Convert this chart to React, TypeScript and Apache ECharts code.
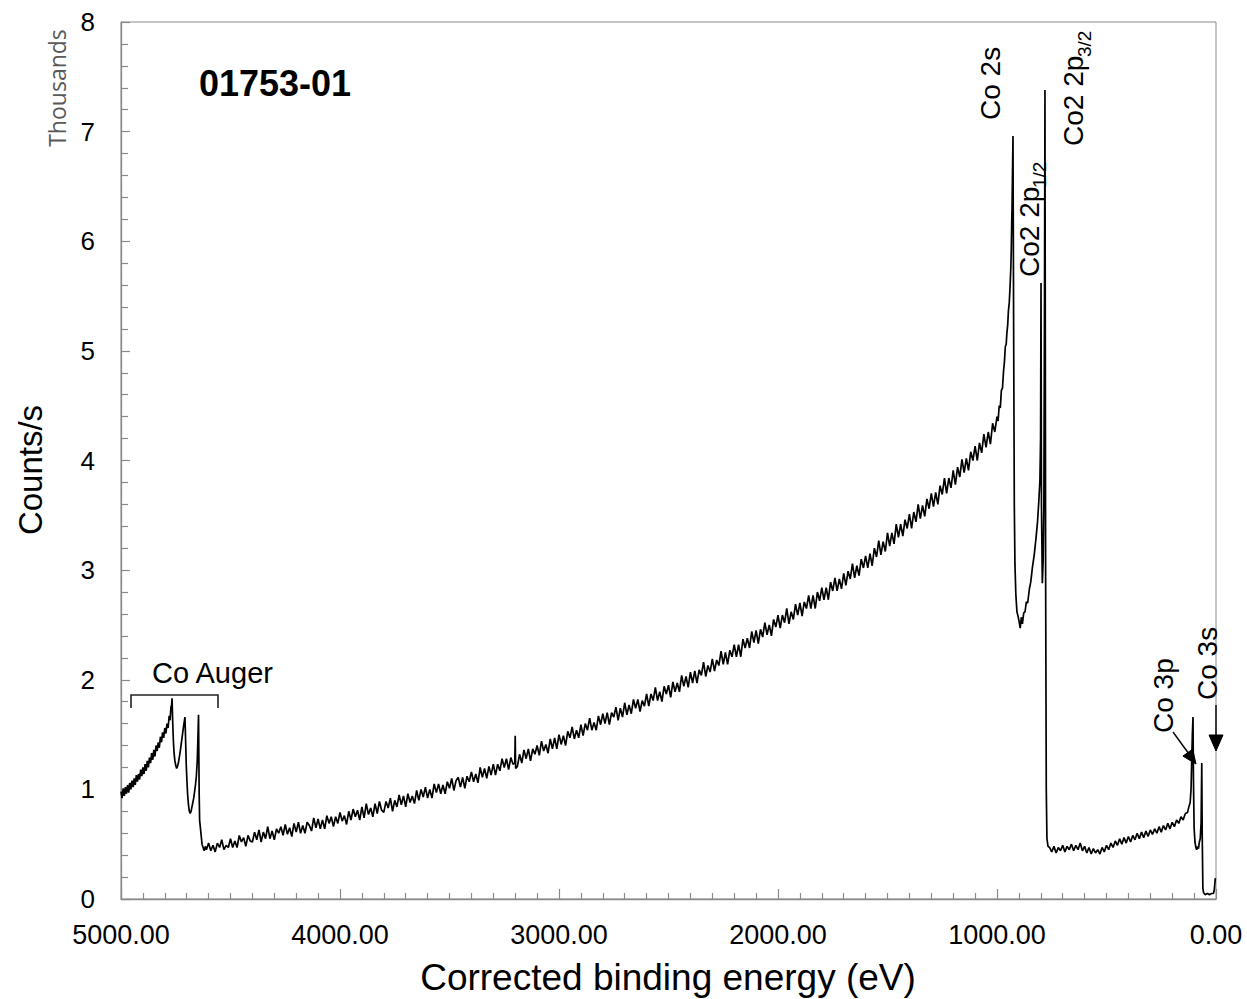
import React, { useEffect, useRef } from "react";
import * as echarts from "echarts";

// Binding energy (eV) vs counts/s (thousands)
const augerSegment: [number, number][] = [
  [5000, 0.98], [4995, 0.92], [4990, 1.01], [4985, 0.94], [4980, 1.02], [4975, 0.96], [4970, 1.04], [4965, 0.97],
  [4960, 1.06], [4955, 1.0], [4950, 1.08], [4945, 1.02], [4940, 1.1], [4935, 1.04], [4930, 1.13], [4925, 1.07],
  [4920, 1.14], [4915, 1.09], [4910, 1.18], [4905, 1.12], [4900, 1.2], [4895, 1.14], [4890, 1.23], [4885, 1.17],
  [4880, 1.26], [4875, 1.2], [4870, 1.29], [4865, 1.24], [4860, 1.33], [4855, 1.27], [4850, 1.36], [4845, 1.3],
  [4840, 1.4], [4835, 1.35], [4830, 1.43], [4825, 1.38], [4820, 1.48], [4815, 1.43], [4810, 1.52], [4805, 1.47],
  [4800, 1.56], [4795, 1.51], [4790, 1.6], [4785, 1.56], [4780, 1.67], [4776, 1.63], [4772, 1.75], [4769, 1.77],
  [4767, 1.83], [4764, 1.62], [4761, 1.45], [4758, 1.34], [4754, 1.26], [4750, 1.22], [4746, 1.19], [4742, 1.21],
  [4738, 1.24], [4734, 1.29], [4730, 1.34], [4726, 1.4], [4722, 1.46], [4718, 1.52], [4714, 1.58], [4711, 1.62],
  [4708, 1.66], [4705, 1.45], [4702, 1.22], [4699, 1.08], [4696, 0.96], [4692, 0.86], [4688, 0.8], [4684, 0.78],
  [4680, 0.8], [4676, 0.84], [4672, 0.88], [4668, 0.92], [4664, 0.98], [4660, 1.04], [4656, 1.12], [4652, 1.25],
  [4649, 1.45], [4646, 1.68], [4643, 0.95], [4641, 0.72], [4638, 0.66], [4634, 0.58], [4630, 0.5], [4625, 0.47],
  [4620, 0.44], [4615, 0.48], [4610, 0.45],
];

const backgroundSegment: [number, number][] = [
  [4600, 0.51], [4590, 0.44], [4580, 0.49], [4570, 0.43], [4560, 0.51], [4550, 0.47], [4540, 0.54], [4530, 0.45], [4520, 0.49], [4510, 0.47],
  [4500, 0.55], [4490, 0.47], [4480, 0.53], [4470, 0.47], [4460, 0.58], [4450, 0.52], [4440, 0.56], [4430, 0.48], [4420, 0.58], [4410, 0.53],
  [4400, 0.52], [4390, 0.61], [4380, 0.54], [4370, 0.63], [4360, 0.52], [4350, 0.61], [4340, 0.55], [4330, 0.66], [4320, 0.55], [4310, 0.62],
  [4300, 0.54], [4290, 0.64], [4280, 0.6], [4270, 0.66], [4260, 0.58], [4250, 0.68], [4240, 0.59], [4230, 0.65], [4220, 0.57], [4210, 0.69],
  [4200, 0.61], [4190, 0.7], [4180, 0.6], [4170, 0.67], [4160, 0.6], [4150, 0.7], [4140, 0.67], [4130, 0.62], [4120, 0.74], [4110, 0.65],
  [4100, 0.73], [4090, 0.64], [4080, 0.72], [4070, 0.64], [4060, 0.76], [4050, 0.69], [4040, 0.75], [4030, 0.66], [4020, 0.75], [4010, 0.69],
  [4000, 0.79], [3990, 0.71], [3980, 0.76], [3970, 0.68], [3960, 0.8], [3950, 0.72], [3940, 0.82], [3930, 0.75], [3920, 0.81], [3910, 0.72],
  [3900, 0.84], [3890, 0.74], [3880, 0.87], [3870, 0.77], [3860, 0.83], [3850, 0.75], [3840, 0.87], [3830, 0.78], [3820, 0.89], [3810, 0.81],
  [3800, 0.79], [3790, 0.89], [3780, 0.83], [3770, 0.92], [3760, 0.8], [3750, 0.9], [3740, 0.84], [3730, 0.95], [3720, 0.86], [3710, 0.94],
  [3700, 0.84], [3690, 0.96], [3680, 0.88], [3670, 0.94], [3660, 0.87], [3650, 0.99], [3640, 0.9], [3630, 1.0], [3620, 0.93], [3610, 1.02],
  [3600, 0.92], [3590, 1.0], [3580, 0.92], [3570, 1.05], [3560, 0.97], [3550, 1.05], [3540, 0.96], [3530, 1.04], [3520, 0.96], [3510, 1.07],
  [3500, 1.01], [3490, 1.1], [3480, 0.99], [3470, 1.08], [3460, 1.11], [3450, 1.02], [3440, 1.11], [3430, 1.01], [3420, 1.12], [3410, 1.07],
  [3400, 1.16], [3390, 1.07], [3380, 1.14], [3370, 1.06], [3360, 1.2], [3350, 1.11], [3340, 1.19], [3330, 1.1], [3320, 1.21], [3310, 1.13],
  [3300, 1.23], [3290, 1.13], [3280, 1.23], [3270, 1.17], [3260, 1.28], [3250, 1.2], [3240, 1.28], [3230, 1.18], [3220, 1.29], [3210, 1.23],
  [3202, 1.24], [3200, 1.49], [3198, 1.19], [3190, 1.21], [3180, 1.32], [3170, 1.24], [3160, 1.36], [3150, 1.28], [3140, 1.37], [3130, 1.26], [3120, 1.37], [3110, 1.32],
  [3100, 1.4], [3090, 1.31], [3080, 1.44], [3070, 1.35], [3060, 1.41], [3050, 1.33], [3040, 1.46], [3030, 1.37], [3020, 1.47], [3010, 1.37],
  [3000, 1.5], [2990, 1.41], [2980, 1.49], [2970, 1.4], [2960, 1.53], [2950, 1.47], [2940, 1.57], [2930, 1.46], [2920, 1.54], [2910, 1.47],
  [2900, 1.59], [2890, 1.49], [2880, 1.6], [2870, 1.54], [2860, 1.65], [2850, 1.54], [2840, 1.61], [2830, 1.54], [2820, 1.67], [2810, 1.59],
  [2800, 1.69], [2790, 1.6], [2780, 1.7], [2770, 1.59], [2760, 1.7], [2750, 1.66], [2740, 1.75], [2730, 1.63], [2720, 1.74], [2710, 1.66],
  [2700, 1.79], [2690, 1.68], [2680, 1.77], [2670, 1.69], [2660, 1.82], [2650, 1.74], [2640, 1.82], [2630, 1.71], [2620, 1.81], [2610, 1.76],
  [2600, 1.87], [2590, 1.76], [2580, 1.87], [2570, 1.81], [2560, 1.93], [2550, 1.81], [2540, 1.89], [2530, 1.8], [2520, 1.94], [2510, 1.87],
  [2500, 1.95], [2490, 1.84], [2480, 1.98], [2470, 1.89], [2460, 1.97], [2450, 1.89], [2440, 2.04], [2430, 1.94], [2420, 2.03], [2410, 1.93],
  [2400, 2.07], [2390, 1.97], [2380, 2.08], [2370, 1.97], [2360, 2.09], [2350, 2.04], [2340, 2.16], [2330, 2.03], [2320, 2.13], [2310, 2.07],
  [2300, 2.19], [2290, 2.08], [2280, 2.18], [2270, 2.13], [2260, 2.26], [2250, 2.14], [2240, 2.25], [2230, 2.14], [2220, 2.27], [2210, 2.21],
  [2200, 2.32], [2190, 2.21], [2180, 2.32], [2170, 2.21], [2160, 2.37], [2150, 2.29], [2140, 2.38], [2130, 2.29], [2120, 2.44], [2110, 2.34],
  [2100, 2.45], [2090, 2.33], [2080, 2.46], [2070, 2.39], [2060, 2.52], [2050, 2.41], [2040, 2.5], [2030, 2.4], [2020, 2.55], [2010, 2.48],
  [2000, 2.59], [1990, 2.47], [1980, 2.59], [1970, 2.52], [1960, 2.65], [1950, 2.51], [1940, 2.62], [1930, 2.55], [1920, 2.69], [1910, 2.59],
  [1900, 2.7], [1890, 2.58], [1880, 2.71], [1870, 2.65], [1860, 2.77], [1850, 2.65], [1840, 2.77], [1830, 2.65], [1820, 2.8], [1810, 2.72],
  [1800, 2.84], [1790, 2.73], [1780, 2.84], [1770, 2.73], [1760, 2.89], [1750, 2.81], [1740, 2.93], [1730, 2.81], [1720, 2.92], [1710, 2.83],
  [1700, 2.97], [1690, 2.86], [1680, 2.99], [1670, 2.92], [1660, 3.06], [1650, 2.93], [1640, 3.04], [1630, 2.95], [1620, 3.1], [1610, 3.02],
  [1600, 3.13], [1590, 3.02], [1580, 3.15], [1570, 3.04], [1560, 3.2], [1550, 3.12], [1540, 3.27], [1530, 3.14], [1520, 3.26], [1510, 3.17],
  [1500, 3.34], [1490, 3.22], [1480, 3.34], [1470, 3.24], [1460, 3.42], [1450, 3.3], [1440, 3.42], [1430, 3.31], [1420, 3.46], [1410, 3.38],
  [1400, 3.51], [1390, 3.38], [1380, 3.53], [1370, 3.44], [1360, 3.6], [1350, 3.47], [1340, 3.59], [1330, 3.49], [1320, 3.65], [1310, 3.56],
  [1300, 3.7], [1290, 3.58], [1280, 3.71], [1270, 3.6], [1260, 3.77], [1250, 3.69], [1240, 3.84], [1230, 3.7], [1220, 3.84], [1210, 3.75],
  [1200, 3.91], [1190, 3.78], [1180, 3.94], [1170, 3.85], [1160, 4.01], [1150, 3.89], [1140, 4.02], [1130, 3.91], [1120, 4.08], [1110, 4.0],
  [1100, 4.13], [1090, 4.0], [1080, 4.16], [1070, 4.07], [1060, 4.24], [1050, 4.12], [1040, 4.26], [1030, 4.15], [1020, 4.34], [1010, 4.26],
  [1000, 4.4],
];

const cobaltTwoSegment: [number, number][] = [
  [995, 4.36], [990, 4.5], [985, 4.48], [980, 4.64], [975, 4.66], [970, 4.82], [966, 4.9], [962, 5.04], [958, 5.06],
  [955, 5.16], [951, 5.24], [948, 5.36], [944, 5.44], [941, 5.56], [937, 5.75], [935, 5.9], [933, 6.15],
  [931, 6.35], [927, 6.96], [924, 5.2], [921, 3.6], [918, 3.05], [914, 2.78], [909, 2.62], [904, 2.58],
  [899, 2.53], [894, 2.47], [889, 2.57], [884, 2.51], [878, 2.61], [872, 2.62], [866, 2.71], [860, 2.7],
  [852, 2.83], [846, 2.89], [838, 3.03], [830, 3.14], [822, 3.29], [815, 3.44], [809, 3.63], [804, 3.82],
  [801, 4.2], [799, 5.62], [797, 3.6], [793, 2.88], [789, 3.1], [786, 3.6], [783, 5.5], [781, 7.38],
  [778, 3.0], [775, 1.0], [772, 0.55], [767, 0.48],
];

const lowEnergySegment: [number, number][] = [
  [760, 0.47], [750, 0.43], [740, 0.48], [730, 0.42], [720, 0.47], [710, 0.44], [700, 0.49], [690, 0.43],
  [680, 0.48], [670, 0.45], [660, 0.5], [650, 0.44], [640, 0.49], [630, 0.45], [620, 0.51], [610, 0.44],
  [600, 0.48], [590, 0.42], [580, 0.47], [570, 0.41], [560, 0.46], [550, 0.42], [540, 0.45], [530, 0.41],
  [520, 0.47], [510, 0.43], [500, 0.49], [490, 0.45], [480, 0.51], [470, 0.47], [460, 0.53], [450, 0.49],
  [440, 0.55], [430, 0.5], [420, 0.56], [410, 0.51], [400, 0.57], [390, 0.52], [380, 0.58], [370, 0.54],
  [360, 0.6], [350, 0.55], [340, 0.61], [330, 0.56], [320, 0.62], [310, 0.57], [300, 0.63], [290, 0.59],
  [280, 0.64], [270, 0.6], [260, 0.66], [250, 0.61], [240, 0.67], [230, 0.63], [220, 0.69], [210, 0.64],
  [200, 0.7], [190, 0.66], [180, 0.72], [170, 0.69], [160, 0.75], [150, 0.72], [140, 0.78], [130, 0.79],
  [124, 0.84], [118, 0.88], [114, 1.0], [111, 1.25], [108, 1.5], [105, 1.66], [103, 1.1], [100, 0.65],
  [96, 0.52], [92, 0.47], [88, 0.45], [84, 0.48], [80, 0.46], [76, 0.52], [72, 0.55], [68, 0.7],
  [65, 1.24], [63, 0.6], [60, 0.1], [57, 0.06], [50, 0.04], [40, 0.05], [30, 0.04], [20, 0.05],
  [12, 0.05], [8, 0.08], [5, 0.15], [3, 0.19],
];

const xAxisRange = [0, 5000];
const yAxisRange = [0, 8];

const FONT = "'Liberation Sans', Arial, Helvetica, sans-serif";

export default function App() {
  const ref = useRef<HTMLDivElement>(null);
  useEffect(() => {
    if (!ref.current) return;
    const chart = echarts.init(ref.current, null, { renderer: "svg" });
    const data = [...augerSegment, ...backgroundSegment, ...cobaltTwoSegment, ...lowEnergySegment];
    const axisGray = "#8a8a8a";
    const annot = (text: string, x: number, y: number, size = 28) => ({
      type: "text",
      x,
      y,
      rotation: Math.PI / 2,
      style: { text, fontSize: size, fontFamily: FONT, fill: "#000", align: "left", verticalAlign: "middle" },
    });
    chart.setOption({
      animation: false,
      backgroundColor: "#ffffff",
      grid: {
        left: 121,
        top: 22,
        right: 31,
        bottom: 100,
        show: true,
        borderColor: axisGray,
        borderWidth: 1,
        backgroundColor: "transparent",
      },
      xAxis: {
        type: "value",
        position: "bottom",
        min: xAxisRange[0],
        max: xAxisRange[1],
        interval: 1000,
        inverse: true,
        axisLine: { show: true, onZero: false, lineStyle: { color: axisGray, width: 1.3 } },
        axisTick: { show: true, inside: true, length: 10, lineStyle: { color: axisGray, width: 1.2 } },
        minorTick: { show: true, splitNumber: 10, length: 6, lineStyle: { color: axisGray, width: 1.2 } },
        splitLine: { show: false },
        minorSplitLine: { show: false },
        axisLabel: {
          formatter: (v: number) => v.toFixed(2),
          fontSize: 27,
          color: "#000",
          margin: 22,
          fontFamily: FONT,
        },
      },
      yAxis: {
        type: "value",
        position: "left",
        min: yAxisRange[0],
        max: yAxisRange[1],
        interval: 1,
        axisLine: { show: true, onZero: false, lineStyle: { color: axisGray, width: 1.3 } },
        axisTick: { show: true, inside: true, length: 9, lineStyle: { color: axisGray, width: 1.2 } },
        minorTick: { show: true, splitNumber: 5, length: 7, lineStyle: { color: axisGray, width: 1.2 } },
        splitLine: { show: false },
        minorSplitLine: { show: false },
        axisLabel: { fontSize: 26, color: "#000", margin: 26, fontFamily: FONT },
      },
      series: [
        {
          type: "line",
          data,
          showSymbol: false,
          symbol: "none",
          silent: true,
          lineStyle: { color: "#000", width: 1.7 },
        },
      ],
      graphic: [
        {
          type: "text",
          x: 199,
          y: 83,
          style: { text: "01753-01", fontSize: 36, fontWeight: "bold", fontFamily: FONT, fill: "#000", align: "left", verticalAlign: "middle" },
        },
        {
          type: "text",
          x: 30,
          y: 470,
          rotation: Math.PI / 2,
          style: { text: "Counts/s", fontSize: 33, fontFamily: FONT, fill: "#000", align: "center", verticalAlign: "middle" },
        },
        {
          type: "text",
          x: 57,
          y: 88,
          rotation: Math.PI / 2,
          style: { text: "Thousands", fontSize: 23, fontFamily: "'Open Sans', sans-serif", fill: "#595959", align: "center", verticalAlign: "middle" },
        },
        {
          type: "text",
          x: 668,
          y: 977,
          style: { text: "Corrected binding energy (eV)", fontSize: 37, fontFamily: FONT, fill: "#000", align: "center", verticalAlign: "middle" },
        },
        {
          type: "text",
          x: 152,
          y: 673,
          style: { text: "Co Auger", fontSize: 29, fontFamily: FONT, fill: "#000", align: "left", verticalAlign: "middle" },
        },
        {
          type: "polyline",
          shape: { points: [[131, 708], [131, 695], [218, 695], [218, 708]] },
          style: { stroke: "#222", lineWidth: 1.6, fill: null },
        },
        annot("Co 2s", 990, 120),
        annot("Co2 2p", 1029, 277),
        annot("1/2", 1039, 188, 19),
        annot("Co2 2p", 1073, 146),
        annot("3/2", 1084, 57, 19),
        annot("Co 3p", 1163, 733),
        annot("Co 3s", 1207, 700),
        {
          type: "line",
          shape: { x1: 1173, y1: 732, x2: 1189, y2: 754 },
          style: { stroke: "#000", lineWidth: 1.4 },
        },
        {
          type: "polygon",
          shape: { points: [[1196, 764], [1182.9, 756.1], [1192.7, 749.1]] },
          style: { fill: "#000", stroke: "#000", lineWidth: 1 },
        },
        {
          type: "line",
          shape: { x1: 1216, y1: 705, x2: 1216, y2: 738 },
          style: { stroke: "#000", lineWidth: 1.4 },
        },
        {
          type: "polygon",
          shape: { points: [[1216, 751], [1209, 735], [1223, 735]] },
          style: { fill: "#000", stroke: "#000", lineWidth: 1 },
        },
      ],
    });
    return () => chart.dispose();
  }, []);
  return <div ref={ref} style={{ position: "fixed", left: 0, top: 0, width: 1247, height: 999 }} />;
}
